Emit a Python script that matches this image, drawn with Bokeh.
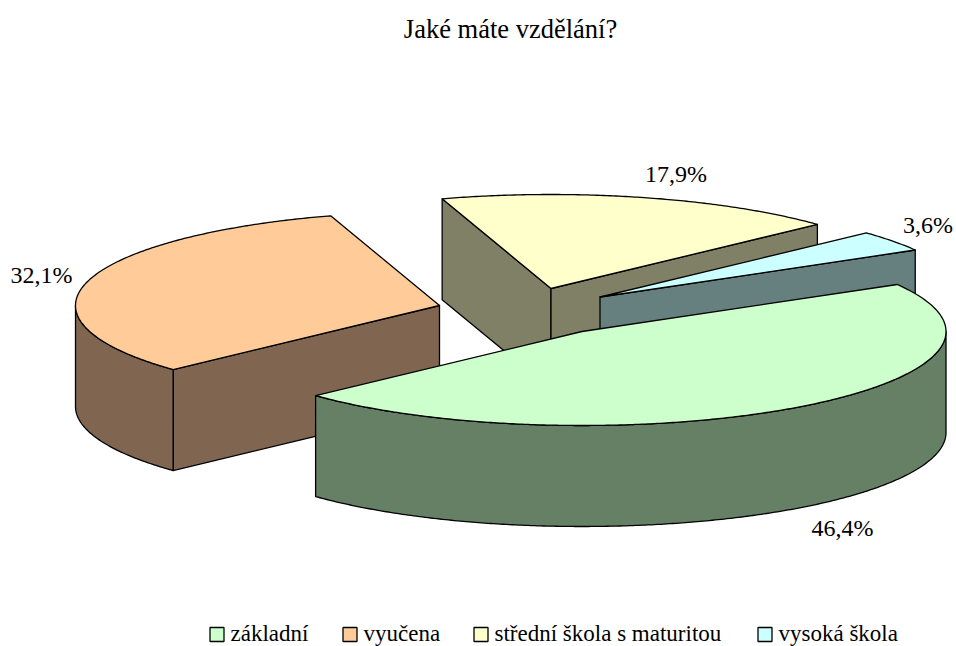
import math
from bokeh.plotting import figure
from bokeh.models import Range1d
from bokeh.core.properties import value
from bokeh.embed import file_html
from bokeh.resources import INLINE

title = "Jaké máte vzdělání?"
categories = ["základní", "vyučena", "střední škola s maturitou", "vysoká škola"]
shares = [46.4, 32.1, 17.9, 3.6]
share_labels = ["46,4%", "32,1%", "17,9%", "3,6%"]
top_colors = ["#CCFFCC", "#FFCC99", "#FFFFCC", "#CCFFFF"]
wall_colors = ["#668066", "#806650", "#808066", "#668080"]

# layout of the projected pie, in page pixels
RX, RY, DEPTH = 364.0, 94.0, 101.0
START = -30.0
centers = [(581.5, 331), (439, 305), (550.5, 288), (599.5, 296.5)]
label_xy = [(842, 527.5), (41, 274.5), (675.5, 173.5), (927.5, 224.5)]
legend_box_x = [216.5, 349.5, 480.5, 764.5]
legend_text_x = [230, 363, 494, 778]
LEGEND_Y = 634
FONT = value("Liberation Serif")

p = figure(width=956, height=646, output_backend="svg", toolbar_location=None,
           x_range=Range1d(0, 956), y_range=Range1d(646, 0), min_border=0)
p.axis.visible = False
p.grid.visible = False
p.outline_line_color = None
p.background_fill_color = "white"
p.border_fill_color = "white"


def pt(c, deg, dz=0.0):
    a = math.radians(deg)
    return c[0] + RX * math.cos(a), c[1] + RY * math.sin(a) + dz


def arc(c, a0, a1, dz=0.0):
    n = max(2, int(abs(a1 - a0)) * 2)
    return [pt(c, a0 + (a1 - a0) * i / n, dz) for i in range(n + 1)]


def poly(points, fill):
    p.patch([q[0] for q in points], [q[1] for q in points], fill_color=fill,
            line_color="black", line_width=1.3, line_join="round")


spans = []
a = START
for s in shares:
    b = a + 360.0 * s / sum(shares)
    spans.append((a, b))
    a = b


def edge_wall(i, deg):
    c = centers[i]
    poly([c, pt(c, deg), pt(c, deg, DEPTH), (c[0], c[1] + DEPTH)], wall_colors[i])


def top(i):
    c = centers[i]
    poly([c] + arc(c, *spans[i]), top_colors[i])


# back to front: yellow, blue, orange, green
edge_wall(2, spans[2][0])
edge_wall(2, spans[2][1])
top(2)

edge_wall(3, spans[3][1])
top(3)

edge_wall(1, spans[1][0])
front = arc(centers[1], spans[1][0], 180)
poly(front + arc(centers[1], 180, spans[1][0], DEPTH), wall_colors[1])
top(1)

front = arc(centers[0], 0, spans[0][1])
poly(front + arc(centers[0], spans[0][1], 0, DEPTH), wall_colors[0])
top(0)

for (x, y), t in zip(label_xy, share_labels):
    p.text([x], [y], text=[t], text_font=FONT, text_font_size="24px", text_color="black",
           text_align="center", text_baseline="middle")

p.text([510], [28], text=[title], text_font=FONT, text_font_size="26.5px", text_color="black",
       text_align="center", text_baseline="middle")

p.rect(legend_box_x, [LEGEND_Y] * 4, width=14, height=14, fill_color=top_colors,
       line_color="black", line_width=1.3)
p.text(legend_text_x, [LEGEND_Y - 1] * 4, text=categories, text_font=FONT, text_font_size="23px",
       text_color="black", text_align="left", text_baseline="middle")

open("out.html", "w").write(file_html(p, INLINE))
